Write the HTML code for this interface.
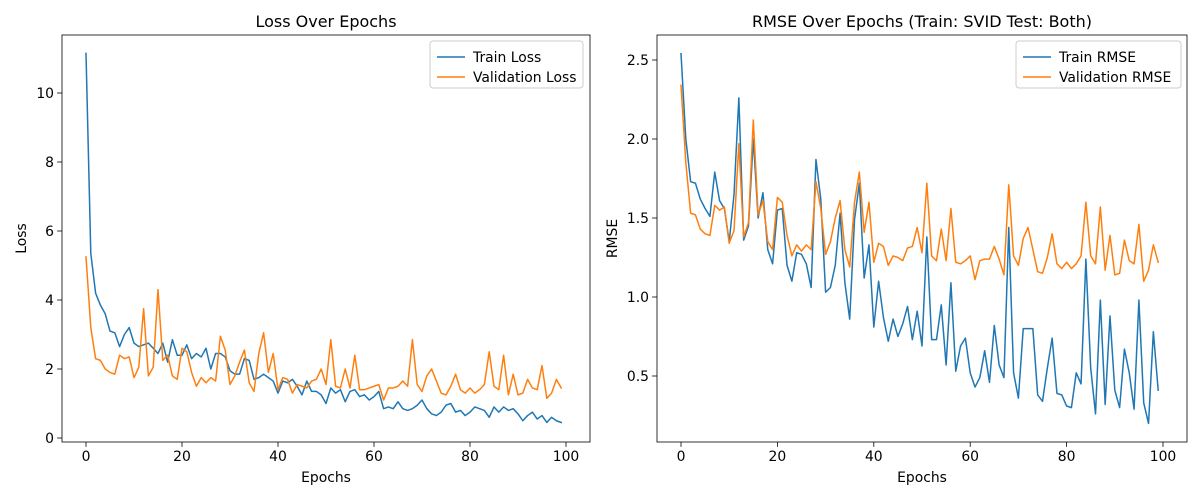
<!DOCTYPE html>
<html><head><meta charset="utf-8"><style>
body{margin:0;background:#fff;}
svg{display:block;font-family:"DejaVu Sans","Liberation Sans",sans-serif;}
</style></head><body>
<svg id="chart" width="1200" height="500" viewBox="0 0 1200 500"></svg>
<script>
const epochs = Array.from({length:100},(_,i)=>i);
const trainLoss = [11.15,5.35,4.2,3.85,3.6,3.1,3.05,2.65,3.0,3.2,2.75,2.65,2.7,2.75,2.6,2.45,2.75,2.2,2.85,2.4,2.4,2.7,2.3,2.45,2.35,2.6,2.0,2.45,2.45,2.35,1.95,1.85,1.85,2.3,2.25,1.7,1.75,1.85,1.75,1.65,1.3,1.65,1.6,1.7,1.5,1.25,1.65,1.35,1.35,1.25,1.0,1.45,1.3,1.4,1.05,1.35,1.4,1.2,1.25,1.1,1.2,1.35,0.85,0.9,0.85,1.05,0.85,0.8,0.85,0.95,1.1,0.85,0.7,0.65,0.75,0.95,1.0,0.75,0.8,0.65,0.75,0.9,0.85,0.8,0.6,0.9,0.75,0.9,0.8,0.85,0.7,0.5,0.65,0.75,0.55,0.65,0.45,0.6,0.5,0.45];
const valLoss = [5.25,3.2,2.3,2.25,2.0,1.9,1.85,2.4,2.3,2.35,1.75,2.05,3.75,1.8,2.05,4.3,2.25,2.4,1.8,1.7,2.6,2.5,1.9,1.5,1.75,1.6,1.75,1.65,2.95,2.55,1.55,1.8,2.2,2.55,1.6,1.35,2.45,3.05,1.9,2.45,1.4,1.75,1.7,1.3,1.55,1.5,1.45,1.65,1.7,2.0,1.55,2.85,1.5,1.45,2.0,1.45,2.4,1.4,1.4,1.45,1.5,1.55,1.1,1.45,1.45,1.5,1.65,1.5,2.85,1.55,1.35,1.8,2.0,1.65,1.3,1.25,1.5,1.85,1.4,1.3,1.45,1.3,1.4,1.55,2.5,1.5,1.4,2.4,1.25,1.85,1.25,1.3,1.7,1.45,1.4,2.1,1.15,1.3,1.7,1.45];
const trainRmse = [2.54,2.0,1.73,1.72,1.62,1.56,1.51,1.79,1.61,1.56,1.35,1.65,2.26,1.36,1.45,2.0,1.5,1.66,1.3,1.21,1.55,1.56,1.2,1.1,1.28,1.27,1.21,1.06,1.87,1.62,1.03,1.06,1.2,1.53,1.09,0.86,1.49,1.72,1.12,1.33,0.81,1.1,0.87,0.72,0.86,0.75,0.83,0.94,0.73,0.91,0.69,1.38,0.73,0.73,0.95,0.57,1.09,0.53,0.69,0.74,0.52,0.43,0.49,0.66,0.46,0.82,0.57,0.49,1.44,0.52,0.36,0.8,0.8,0.8,0.38,0.34,0.55,0.74,0.39,0.38,0.31,0.3,0.52,0.45,1.24,0.55,0.26,0.98,0.32,0.88,0.41,0.3,0.67,0.52,0.29,0.98,0.33,0.2,0.78,0.41];
const valRmse = [2.34,1.85,1.53,1.52,1.43,1.4,1.39,1.58,1.55,1.57,1.34,1.42,1.97,1.38,1.47,2.12,1.52,1.61,1.35,1.3,1.63,1.6,1.39,1.26,1.33,1.29,1.33,1.3,1.73,1.56,1.27,1.35,1.5,1.61,1.3,1.19,1.6,1.79,1.41,1.6,1.22,1.34,1.32,1.2,1.26,1.25,1.23,1.31,1.32,1.44,1.28,1.72,1.26,1.23,1.43,1.23,1.56,1.22,1.21,1.23,1.26,1.11,1.23,1.24,1.24,1.32,1.24,1.14,1.71,1.26,1.2,1.37,1.44,1.3,1.16,1.15,1.25,1.4,1.21,1.18,1.22,1.18,1.21,1.26,1.6,1.26,1.21,1.57,1.17,1.39,1.14,1.15,1.36,1.23,1.21,1.46,1.1,1.17,1.33,1.22];
const xTicks = [0,20,40,60,80,100];
const lossTicks = [0,2,4,6,8,10];
const rmseTicks = [0.5,1.0,1.5,2.0,2.5];

const svg = document.getElementById('chart');
const NS = 'http://www.w3.org/2000/svg';
function mk(tag, attrs, parent){const e=document.createElementNS(NS,tag);for(const k in attrs)e.setAttribute(k,attrs[k]);(parent||svg).appendChild(e);return e;}

function panel(cfg){
  const g = mk('g',{});
  
  
  const {L,R,T,B} = cfg;
  const sx = v => cfg.x0 + (v - 0) * cfg.xs;
  const sy = v => cfg.y0 - (v - cfg.yb) * cfg.ys;
  // ticks
  xTicks.forEach(t=>{
    const x=sx(t);
    const tk=mk('line',{x1:x,x2:x,y1:B,y2:B+4.9,stroke:'#000','stroke-width':0.8},g);
    
    
    const tl=mk('text',{x:x,y:B+19,'font-size':13.9,'text-anchor':'middle',fill:'#000'},g);
    
    
    tl.textContent=t;
  });
  cfg.yTicks.forEach(t=>{
    const y=sy(t);
    const tk=mk('line',{x1:L-4.9,x2:L,y1:y,y2:y,stroke:'#000','stroke-width':0.8},g);
    
    
    const tl=mk('text',{x:L-8,y:y+5,'font-size':13.9,'text-anchor':'end',fill:'#000'},g);
    
    
    tl.textContent=cfg.fmt(t);
  });
  // series
  cfg.series.forEach(s=>{
    const d=s.data.map((v,i)=>(i?'L':'M')+sx(epochs[i]).toFixed(2)+','+sy(v).toFixed(2)).join('');
    const p=mk('path',{d:d,fill:'none',stroke:s.color,'stroke-width':1.5,'stroke-linejoin':'round','stroke-linecap':'square'},g);
    
    
  });
  const fr=mk('rect',{x:L,y:T,width:R-L,height:B-T,fill:'none',stroke:'#000','stroke-width':0.8},g);
  
  
  const ti=mk('text',{x:(L+R)/2,y:T-8,'font-size':16,'text-anchor':'middle',fill:'#000'},g);
  
  
  ti.textContent=cfg.title;
  const xl=mk('text',{x:(L+R)/2,y:B+40,'font-size':13.9,'text-anchor':'middle',fill:'#000'},g);
  
  
  xl.textContent='Epochs';
  const yl=mk('text',{x:0,y:0,'font-size':13.9,'text-anchor':'middle',fill:'#000',transform:`translate(${cfg.ylx},${(T+B)/2}) rotate(-90)`},g);
  
  
  yl.textContent=cfg.ylabel;
  // legend
  const lg=mk('g',{},g);
  
  
  mk('rect',{x:cfg.lgx,y:41,width:cfg.lgw,height:47,rx:3,fill:'#fff','fill-opacity':0.8,stroke:'#ccc','stroke-width':1},lg);
  cfg.series.forEach((s,i)=>{
    const yy=57+i*20;
    const ln=mk('line',{x1:cfg.lgx+7,x2:cfg.lgx+35,y1:yy,y2:yy,stroke:s.color,'stroke-width':1.5},lg);
    
    
    const tx=mk('text',{x:cfg.lgx+43,y:yy+5,'font-size':13.9,fill:'#000'},lg);
    
    
    tx.textContent=s.label;
  });
}
panel({name:'loss-panel',L:62,R:590,T:35,B:442,x0:86,xs:4.8,y0:438,yb:0,ys:34.5,yTicks:lossTicks,fmt:t=>String(t),
  title:'Loss Over Epochs',ylabel:'Loss',ylx:26,lgx:430,lgw:153,
  series:[{id:'train-loss-line',label:'Train Loss',data:trainLoss,color:'#1f77b4'},{id:'validation-loss-line',label:'Validation Loss',data:valLoss,color:'#ff7f0e'}]});
panel({name:'rmse-panel',L:657,R:1187,T:35,B:442,x0:681,xs:4.82,y0:376,yb:0.5,ys:158,yTicks:rmseTicks,fmt:t=>t.toFixed(1),
  title:'RMSE Over Epochs (Train: SVID Test: Both)',ylabel:'RMSE',ylx:617,lgx:1016,lgw:165,
  series:[{id:'train-rmse-line',label:'Train RMSE',data:trainRmse,color:'#1f77b4'},{id:'validation-rmse-line',label:'Validation RMSE',data:valRmse,color:'#ff7f0e'}]});
</script>
</body></html>
